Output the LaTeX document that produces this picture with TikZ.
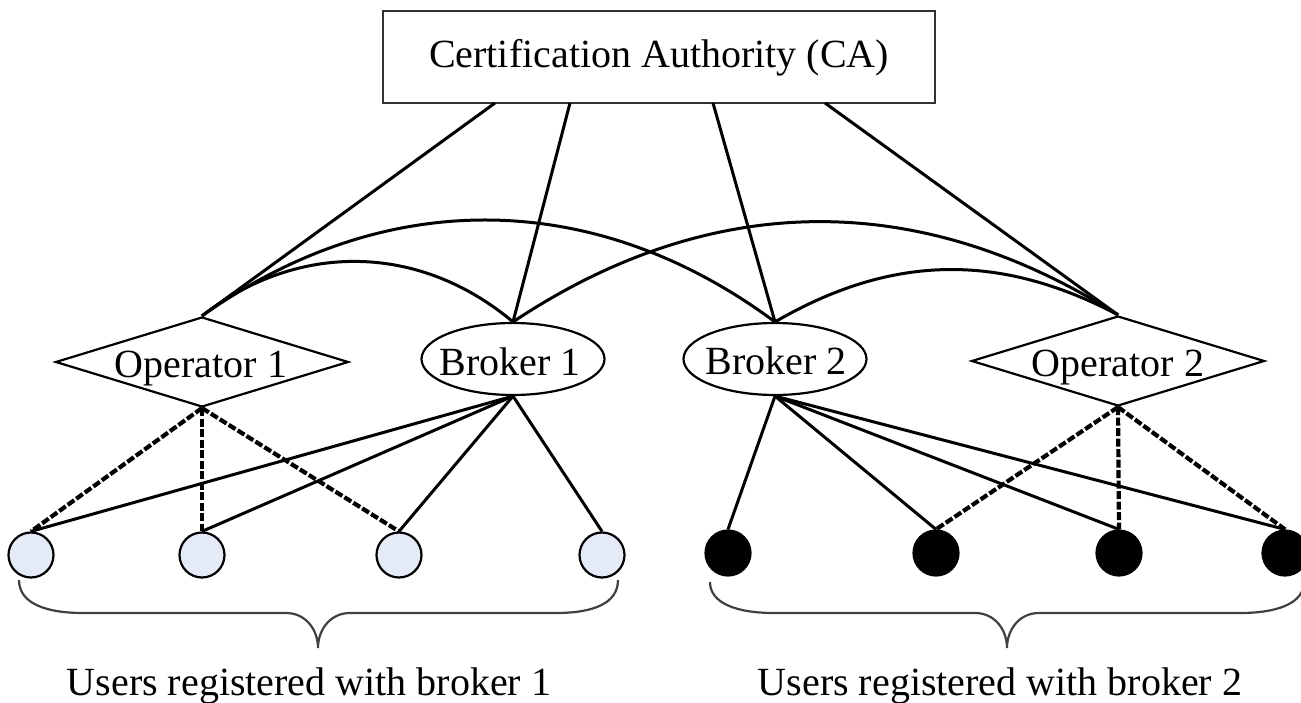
\documentclass[tikz,border=0pt]{standalone}
\usepackage{fontspec}
\setmainfont{Liberation Serif}
\usetikzlibrary{shapes.geometric}
\definecolor{userblue}{RGB}{228,234,246}
\begin{document}
\begin{tikzpicture}[x=1pt,y=-1pt,
  txt/.style={font=\fontsize{40}{48}\selectfont, inner sep=0pt, anchor=base},
  conn/.style={line width=3pt},
  arcconn/.style={line width=3pt},
  dashconn/.style={line width=4.2pt, dash pattern=on 8pt off 2.5pt},
  cabox/.style={draw=black!80, line width=2.6pt, minimum width=552pt, minimum height=92pt, inner sep=0pt},
  opshape/.style={draw, diamond, aspect=3.25, minimum width=293pt, minimum height=90pt, inner sep=0pt, line width=2.2pt, fill=white},
  brshape/.style={draw, ellipse, minimum width=183pt, minimum height=72pt, inner sep=0pt, line width=2.2pt, fill=white},
  lightuser/.style={draw, circle, minimum size=45pt, inner sep=0pt, line width=2.2pt, fill=userblue},
  darkuser/.style={draw, circle, minimum size=45pt, inner sep=0pt, line width=2.2pt, fill=black},
  bracepath/.style={line width=2.2pt, draw=black!75}]
\clip (0,0) rectangle (1301,703);
\fill[white] (0,0) rectangle (1301,703);

% CA box
\node[cabox] (ca) at (659,57) {};
\node[txt] (catxt) at (659,68) {Certification Authority (CA)};
\coordinate (ca1) at (495,103);
\coordinate (ca2) at (570,103);
\coordinate (ca3) at (713,103);
\coordinate (ca4) at (825,103);

% middle nodes
\node[opshape] (op1) at (202,362) {};
\node[brshape] (b1) at (513,359) {};
\node[brshape] (b2) at (775,359) {};
\node[opshape] (op2) at (1118,361) {};
\node[txt] (op1txt) at (201,377) {Operator 1};
\node[txt] (b1txt) at (510,375) {Broker 1};
\node[txt] (b2txt) at (776,374) {Broker 2};
\node[txt] (op2txt) at (1118,376) {Operator 2};

% users
\node[lightuser] (u1) at (31,555) {};
\node[lightuser] (u2) at (202,555) {};
\node[lightuser] (u3) at (399,555) {};
\node[lightuser] (u4) at (602,555) {};
\node[darkuser] (v1) at (728,553) {};
\node[darkuser] (v2) at (936,553) {};
\node[darkuser] (v3) at (1119,553) {};
\node[darkuser] (v4) at (1285,553) {};

% CA links
\draw[conn] (ca1) -- (op1.north);
\draw[conn] (ca2) -- (b1.north);
\draw[conn] (ca3) -- (b2.north);
\draw[conn] (ca4) -- (op2.north);

% arcs
\draw[arcconn] (op1.north) to[bend left=39] (b1.north);
\draw[arcconn] (op1.north) to[bend left=36] (b2.north);
\draw[arcconn] (b1.north) to[bend left=33] (op2.north);
\draw[arcconn] (b2.north) to[bend left=29] (op2.north);

% broker 1 links
\draw[conn] (b1.south) -- (u1.north);
\draw[conn] (b1.south) -- (u2.north);
\draw[conn] (b1.south) -- (u3.north);
\draw[conn] (b1.south) -- (u4.north);
% operator 1 links
\draw[dashconn] (op1.south) -- (u1.north);
\draw[dashconn] (op1.south) -- (u2.north);
\draw[dashconn] (op1.south) -- (u3.north);

% broker 2 links
\draw[conn] (b2.south) -- (v1.north);
\draw[conn] (b2.south) -- (v2.north);
\draw[conn] (b2.south) -- (v3.north);
\draw[conn] (b2.south) -- (v4.north);
% operator 2 links
\draw[dashconn] (op2.south) -- (v2.north);
\draw[dashconn] (op2.south) -- (v3.north);
\draw[dashconn] (op2.south) -- (v4.north);

% braces
\draw[bracepath] (19,580) .. controls (19,603) and (45,613) .. (83,613) -- (286,613)
  .. controls (306,613) and (318,630) .. (318,648)
  .. controls (318,630) and (330,613) .. (350,613) -- (556,613)
  .. controls (594,613) and (618,603) .. (618,580);
\draw[bracepath] (710,582) .. controls (710,603) and (736,613) .. (774,613) -- (975,613)
  .. controls (995,613) and (1007,630) .. (1007,648)
  .. controls (1007,630) and (1019,613) .. (1039,613) -- (1240,613)
  .. controls (1278,613) and (1304,603) .. (1304,582);

\node[txt] (users1) at (309,695) {Users registered with broker 1};
\node[txt] (users2) at (1000,695) {Users registered with broker 2};
\end{tikzpicture}
\end{document}
